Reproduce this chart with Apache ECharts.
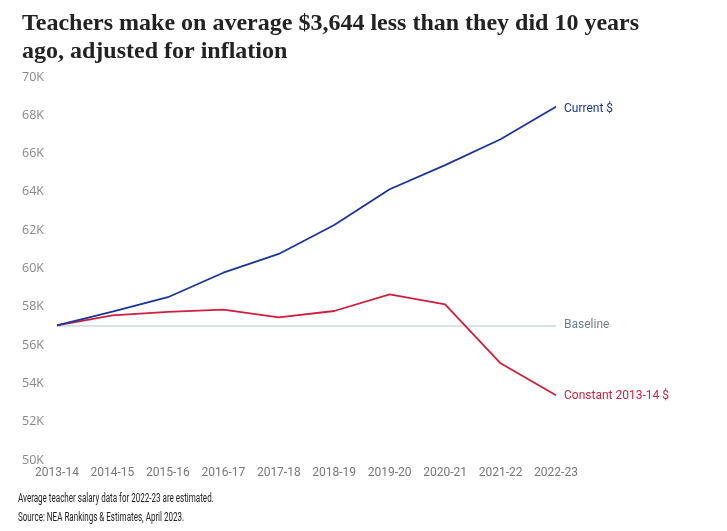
<!DOCTYPE html>
<html>
<head>
<meta charset="utf-8">
<script src="https://cdn.jsdelivr.net/npm/echarts@6/dist/echarts.min.js"></script>
<style>
html,body{margin:0;padding:0;background:#fff;}
#chart{width:727px;height:531px;}
</style>
</head>
<body>
<div id="chart"></div>
<script>
const categories = ['2013-14','2014-15','2015-16','2016-17','2017-18','2018-19','2019-20','2020-21','2021-22','2022-23'];
const currentDollars = [57030, 57750, 58500, 59780, 60760, 62270, 64140, 65400, 66750, 68450];
const constantDollars = [57030, 57550, 57740, 57850, 57450, 57780, 58650, 58130, 55050, 53386];
const baselineValue = 57030;
const yTicks = {min: 50000, max: 70000, interval: 2000};

const chart = echarts.init(document.getElementById('chart'), null, {renderer: 'canvas'});
const sans = 'Roboto, "Open Sans", sans-serif';
chart.setOption({
  animation: false,
  backgroundColor: '#fff',
  title: {
    text: 'Teachers make on average $3,644 less than they did 10 years\nago, adjusted for inflation',
    left: 17, top: 5,
    textStyle: {fontFamily: '"Liberation Serif", serif', fontWeight: 'bold', fontSize: 24, lineHeight: 28, color: '#222'}
  },
  graphic: [
    {type: 'text', left: 18, top: 493, scaleX: 0.67, style: {text: 'Average teacher salary data for 2022-23 are estimated.', font: '12px ' + sans, fill: '#222'}},
    {type: 'text', left: 18, top: 512, scaleX: 0.67, style: {text: 'Source: NEA Rankings & Estimates, April 2023.', font: '12px ' + sans, fill: '#222'}}
  ],
  grid: {left: 57, right: 171, top: 77, bottom: 71},
  xAxis: {
    type: 'category', data: categories, boundaryGap: false,
    axisLine: {show: false}, axisTick: {show: false},
    axisLabel: {color: '#777', fontFamily: sans, fontSize: 12, margin: 7, interval: 0}
  },
  yAxis: {
    type: 'value', min: yTicks.min, max: yTicks.max, interval: yTicks.interval,
    splitLine: {show: false}, axisLine: {show: false}, axisTick: {show: false},
    axisLabel: {color: '#888', fontFamily: '"Open Sans", sans-serif', fontSize: 12.5, margin: 13,
      formatter: v => (v / 1000) + 'K'}
  },
  series: [
    {
      name: 'Constant 2013-14 $', type: 'line', data: constantDollars, symbol: 'none', z: 3,
      lineStyle: {color: '#d01f3c', width: 1.8},
      endLabel: {show: true, formatter: 'Constant 2013-14 $', color: '#d01f3c', fontFamily: sans, fontSize: 12, distance: 8, offset: [0, 1]},
      markLine: {
        silent: true, symbol: 'none', z: 1,
        lineStyle: {color: '#d8e3e6', width: 2, type: 'solid'},
        label: {show: true, position: 'end', formatter: 'Baseline', color: '#6e7d89', fontFamily: sans, fontSize: 12, distance: 8, padding: [4, 0, 0, 0]},
        data: [{yAxis: baselineValue}]
      }
    },
    {
      name: 'Current $', type: 'line', data: currentDollars, symbol: 'none', z: 4,
      lineStyle: {color: '#1a3597', width: 1.8},
      endLabel: {show: true, formatter: 'Current $', color: '#1a3597', fontFamily: sans, fontSize: 12, distance: 8, offset: [0, 2]}
    }
  ]
});
</script>
</body>
</html>
